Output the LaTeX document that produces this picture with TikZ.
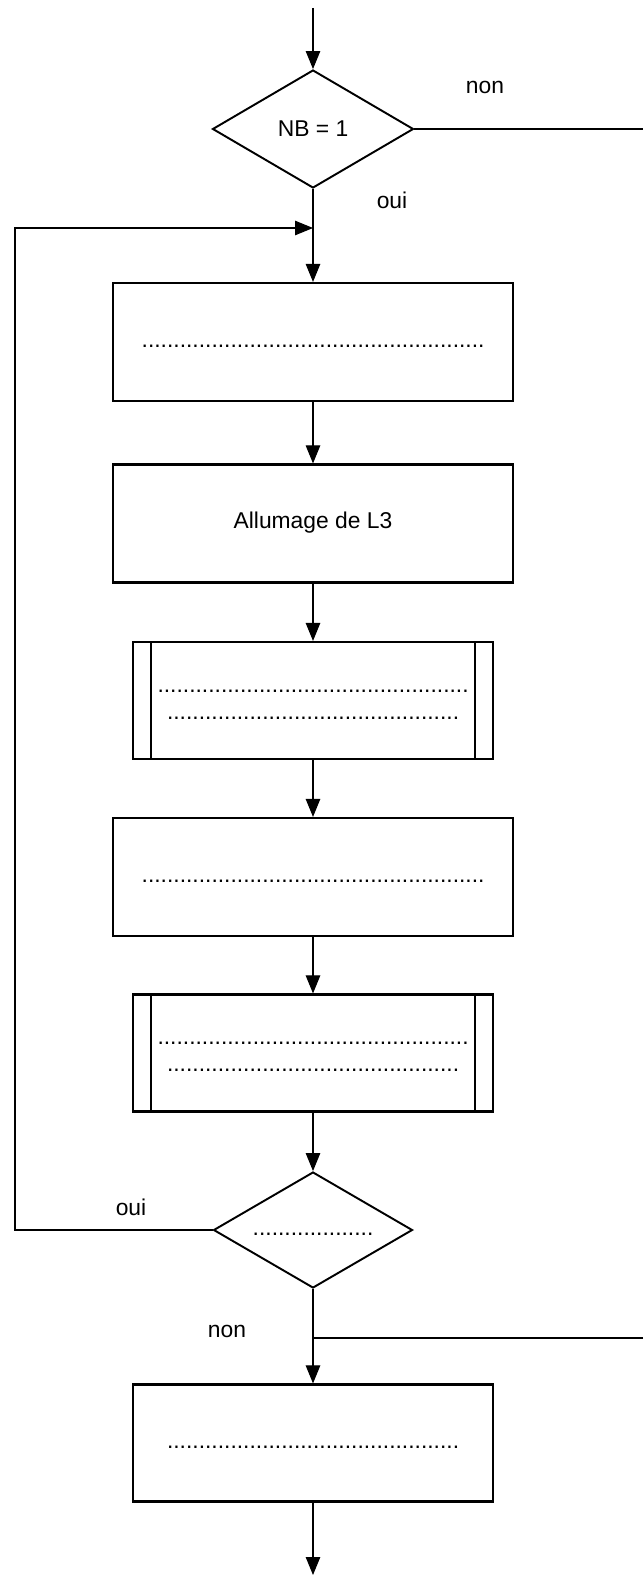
\documentclass[tikz,border=0pt]{standalone}
\usepackage{fontspec}
\setmainfont{Liberation Sans}
\usetikzlibrary{arrows.meta, positioning, shapes.geometric}
\newcommand{\fcfont}{\fontsize{13}{15.4}\selectfont}
\newcommand{\blanks}[1]{\strut\foreach \k in {1,...,#1}{.}}
\tikzset{
  fcbox/.style={
    rectangle, draw=black, line width=1.25pt, fill=white, align=center,
    minimum width=8cm, minimum height=2.36cm, inner sep=0pt, font=\fcfont},
  fcsub/.style={fcbox, minimum width=7.2cm, minimum height=2.34cm,
    path picture={
      \draw[line width=1.25pt]
        ([xshift=3.6mm]path picture bounding box.north west) -- ([xshift=3.6mm]path picture bounding box.south west)
        ([xshift=-3.6mm]path picture bounding box.north east) -- ([xshift=-3.6mm]path picture bounding box.south east);}},
  fctest/.style={
    diamond, aspect=1.7, draw=black, line width=1.1pt, fill=white, align=center,
    minimum width=4.02cm, minimum height=2.36cm, inner sep=0pt, font=\fcfont},
  fcarr/.style={-{Triangle[length=3.6mm,width=2.9mm]}, line width=0.6pt},
  fcline/.style={line width=0.6pt},
  fclbl/.style={anchor=base, inner sep=0pt, font=\fcfont},
}
\begin{document}
\begin{tikzpicture}[x=0.02cm, y=-0.02cm]
  \useasboundingbox (0,0) rectangle (643,1575);
  \coordinate (top) at (313,8);
  \node[fctest] (nb) at (313,129) {NB = 1};
  \coordinate (merge) at (313,228);
  \node[fcbox] (b1) at (313,342) {\blanks{54}};
  \node[fcbox] (b2) at (313,523.5) {\strut Allumage de L3};
  \node[fcsub] (s1) at (313,700.5) {\blanks{49}\\\blanks{46}};
  \node[fcbox] (b3) at (313,877) {\blanks{54}};
  \node[fcsub] (s2) at (313,1053) {\blanks{49}\\\blanks{46}};
  \node[fctest, minimum width=3.98cm, minimum height=2.32cm] (tst) at (313,1230) {\blanks{19}};
  \coordinate (join) at (313,1338);
  \node[fcsub, path picture={}] (b4) at (313,1443) {\blanks{46}};
  \coordinate (end) at (313,1575);
  \coordinate (r1) at (643,129);
  \coordinate (r2) at (643,1338);
  \coordinate (l1) at (15,1230);
  \coordinate (l2) at (15,228);
  % connectors
  \draw[fcarr] (top) -- (nb);
  \draw[fcarr] (nb) -- (b1);
  \draw[fcline] (nb.east) -- (r1);
  \draw[fcarr] (b1) -- (b2);
  \draw[fcarr] (b2) -- (s1);
  \draw[fcarr] (s1) -- (b3);
  \draw[fcarr] (b3) -- (s2);
  \draw[fcarr] (s2) -- (tst);
  \draw[fcarr] (tst.west) -- (l1) -- (l2) -- (merge);
  \draw[fcarr] (tst) -- (b4);
  \draw[fcline] (r2) -- (join);
  \draw[fcarr] (b4) -- (end);
  % labels
  \node[fclbl] (non1) at (485,93) {non};
  \node[fclbl] (oui1) at (392,208) {oui};
  \node[fclbl] (oui2) at (131,1215) {oui};
  \node[fclbl] (non2) at (227,1337) {non};
\end{tikzpicture}
\end{document}
